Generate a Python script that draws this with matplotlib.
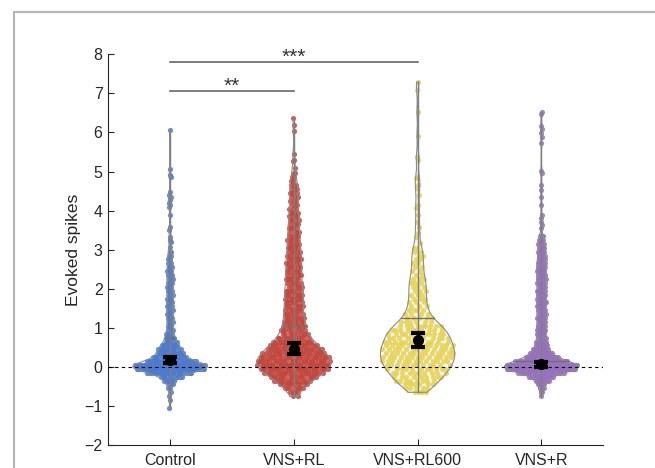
import numpy as np
import matplotlib
matplotlib.use('Agg')
import matplotlib.pyplot as plt
from matplotlib.patches import Rectangle

plt.rcParams['font.family'] = ['Liberation Sans', 'DejaVu Sans']

groups = ['Control', 'VNS+RL', 'VNS+RL600', 'VNS+R']
colors = ['#4d7acc', '#c1473e', '#e5d252', '#9672bd']

# counts per 0.1-wide bin (first bin centre given)
ctrl_start = -1.05
ctrl_counts = [1, 0, 1, 1, 1, 2, 3, 6, 10, 20, 40, 40, 23, 16, 13, 12, 9, 6, 5,
               4, 3, 3, 3, 3, 3, 3, 3, 3, 3, 3, 3, 3, 3, 3, 3, 3, 3, 2, 2, 2, 2]
ctrl_tail = [6.06, 5.06, 4.9, 4.85, 4.48, 4.4, 4.35, 4.27, 4.2, 4.14, 4.1,
             3.89, 3.58, 3.5, 3.33, 3.25, 3.2, 3.07]

rl_start = -0.75
rl_counts = [2, 4, 7, 10, 13, 18, 23, 29, 31, 29, 27, 25, 21, 18, 15, 12, 10,
             9, 8, 8, 8, 7, 7, 7, 7, 7, 7, 7, 6, 6, 6, 6, 6, 6, 6, 6, 5, 5,
             5, 5, 5, 5, 4, 4, 4, 4, 4, 4, 3, 3, 3, 3, 4, 3, 3, 2, 2, 2]
rl_tail = [6.37, 6.2, 6.04, 5.45, 5.3, 5.28, 5.1]

rl600_start = -0.65
rl600_counts = [4, 5, 6, 8, 9, 10, 11, 12, 13, 13, 13, 13, 12, 12, 11, 11, 10,
                9, 6, 5, 4, 4, 3, 3, 3, 3, 3, 3, 3, 3, 2, 2, 2, 2, 2, 2, 2, 2]
rl600_tail = [7.29, 7.08, 6.52, 5.9, 5.37, 5.3, 4.87, 4.83, 4.65, 4.57, 4.4,
              4.14, 4.07, 3.89, 3.71, 3.58, 3.43, 3.33, 3.17]

r_start = -0.75
r_counts = [1, 2, 3, 5, 8, 14, 24, 60, 60, 30, 20, 14, 10, 8, 7, 6, 6, 6, 6, 6,
            6, 6, 6, 6, 6, 6, 6, 6, 6, 6, 6, 6, 6, 6, 6, 5, 5, 5, 5, 4, 4, 3]
r_tail = [6.52, 6.47, 6.16, 6.1, 5.98, 5.88, 5.73, 5.01, 4.96, 4.65, 4.53,
          4.35, 4.14, 3.89, 3.8, 3.71, 3.63, 3.55]

# horizontal gray line drawn across each violin
level_vals = [0.75, 1.05, 1.25, 0.15]

# black markers with error bars
mid_vals = [0.18, 0.47, 0.69, 0.07]
mid_lo = [0.10, 0.34, 0.51, 0.01]
mid_hi = [0.26, 0.61, 0.87, 0.13]

# significance brackets: (from, to, height, label)
sig_pairs = [(0, 1, 7.05, '**'), (0, 2, 7.8, '***')]


def build(start, counts, tail):
    centres = start + 0.1 * np.arange(len(counts))
    return np.concatenate([np.repeat(centres, counts), tail])


data = [build(ctrl_start, ctrl_counts, ctrl_tail),
        build(rl_start, rl_counts, rl_tail),
        build(rl600_start, rl600_counts, rl600_tail),
        build(r_start, r_counts, r_tail)]


def kde(x, grid):
    sig = np.median(np.abs(x - np.median(x))) / 0.6745
    bw = 0.55 * sig * (4.0 / (3.0 * len(x))) ** 0.2
    z = (grid[:, None] - x[None, :]) / bw
    return np.exp(-0.5 * z ** 2).sum(axis=1)


fig = plt.figure(figsize=(6.55, 4.68), dpi=100)
ax = fig.add_axes([0.165, 0.049, 0.756, 0.835])

half = 0.3
gold = 0.6180339887
for i, (vals, col) in enumerate(zip(data, colors)):
    pos = i + 1
    grid = np.linspace(vals.min(), vals.max(), 300)
    dens = kde(vals, grid)
    w = dens / dens.max() * half
    ax.fill_betweenx(grid, pos - w, pos + w, color=col, alpha=0.12,
                     lw=0, zorder=1)
    wp = np.interp(vals, grid, w)
    u = (np.arange(len(vals)) * gold + 0.37 * i) % 1.0
    ax.scatter(pos + (2 * u - 1) * wp, vals, s=14, color=col, lw=0,
               alpha=0.85, zorder=2)
    ax.plot(np.r_[pos - w, (pos + w)[::-1], pos - w[0]],
            np.r_[grid, grid[::-1], grid[0]], color='#8c8c8c', lw=0.8,
            zorder=3)
    ax.plot([pos, pos], [vals.min(), vals.max()], color='#7f7f7f', lw=1,
            zorder=3)
    lv = level_vals[i]
    wm = np.interp(lv, grid, w)
    ax.plot([pos - wm, pos + wm], [lv, lv], color='#707070', lw=1, zorder=3)

ax.axhline(0, color='black', lw=0.8, ls=(0, (3, 3)), zorder=4)

xs = np.arange(1, len(groups) + 1)
ax.errorbar(xs, mid_vals,
            yerr=[np.subtract(mid_vals, mid_lo), np.subtract(mid_hi, mid_vals)],
            fmt='o', color='black', ms=7, lw=2.5, capsize=5, capthick=3,
            zorder=5)

for a, b, h, lab in sig_pairs:
    ax.plot([a + 1, b + 1], [h, h], color='#5a5a5a', lw=1.1, zorder=3)
    ax.text((a + b) / 2 + 1, h + 0.13, lab, ha='center', va='center',
            fontsize=15, color='#333333')

ax.set_xlim(0.5, 4.5)
ax.set_ylim(-2, 8)
ax.set_xticks(xs)
ax.set_xticklabels(groups)
ax.set_yticks(range(-2, 9))
ax.tick_params(direction='in', length=4, labelsize=11.5, colors='#262626',
               width=0.8)
ax.tick_params(axis='x', pad=6)
ax.tick_params(axis='y', pad=4)
for s in ['top', 'right']:
    ax.spines[s].set_visible(False)
for s in ['left', 'bottom']:
    ax.spines[s].set_color('#262626')
    ax.spines[s].set_linewidth(0.8)
ax.set_ylabel('Evoked spikes', fontsize=12.5, color='#262626')
ax.yaxis.set_label_coords(-0.055, 0.5)

fig.patches.append(Rectangle((14 / 655, -0.2), 1.2, 1.2 - 12 / 468,
                             transform=fig.transFigure, fill=False,
                             edgecolor='#b5b5b5', lw=1.5))

fig.savefig('out.png', dpi=100)
